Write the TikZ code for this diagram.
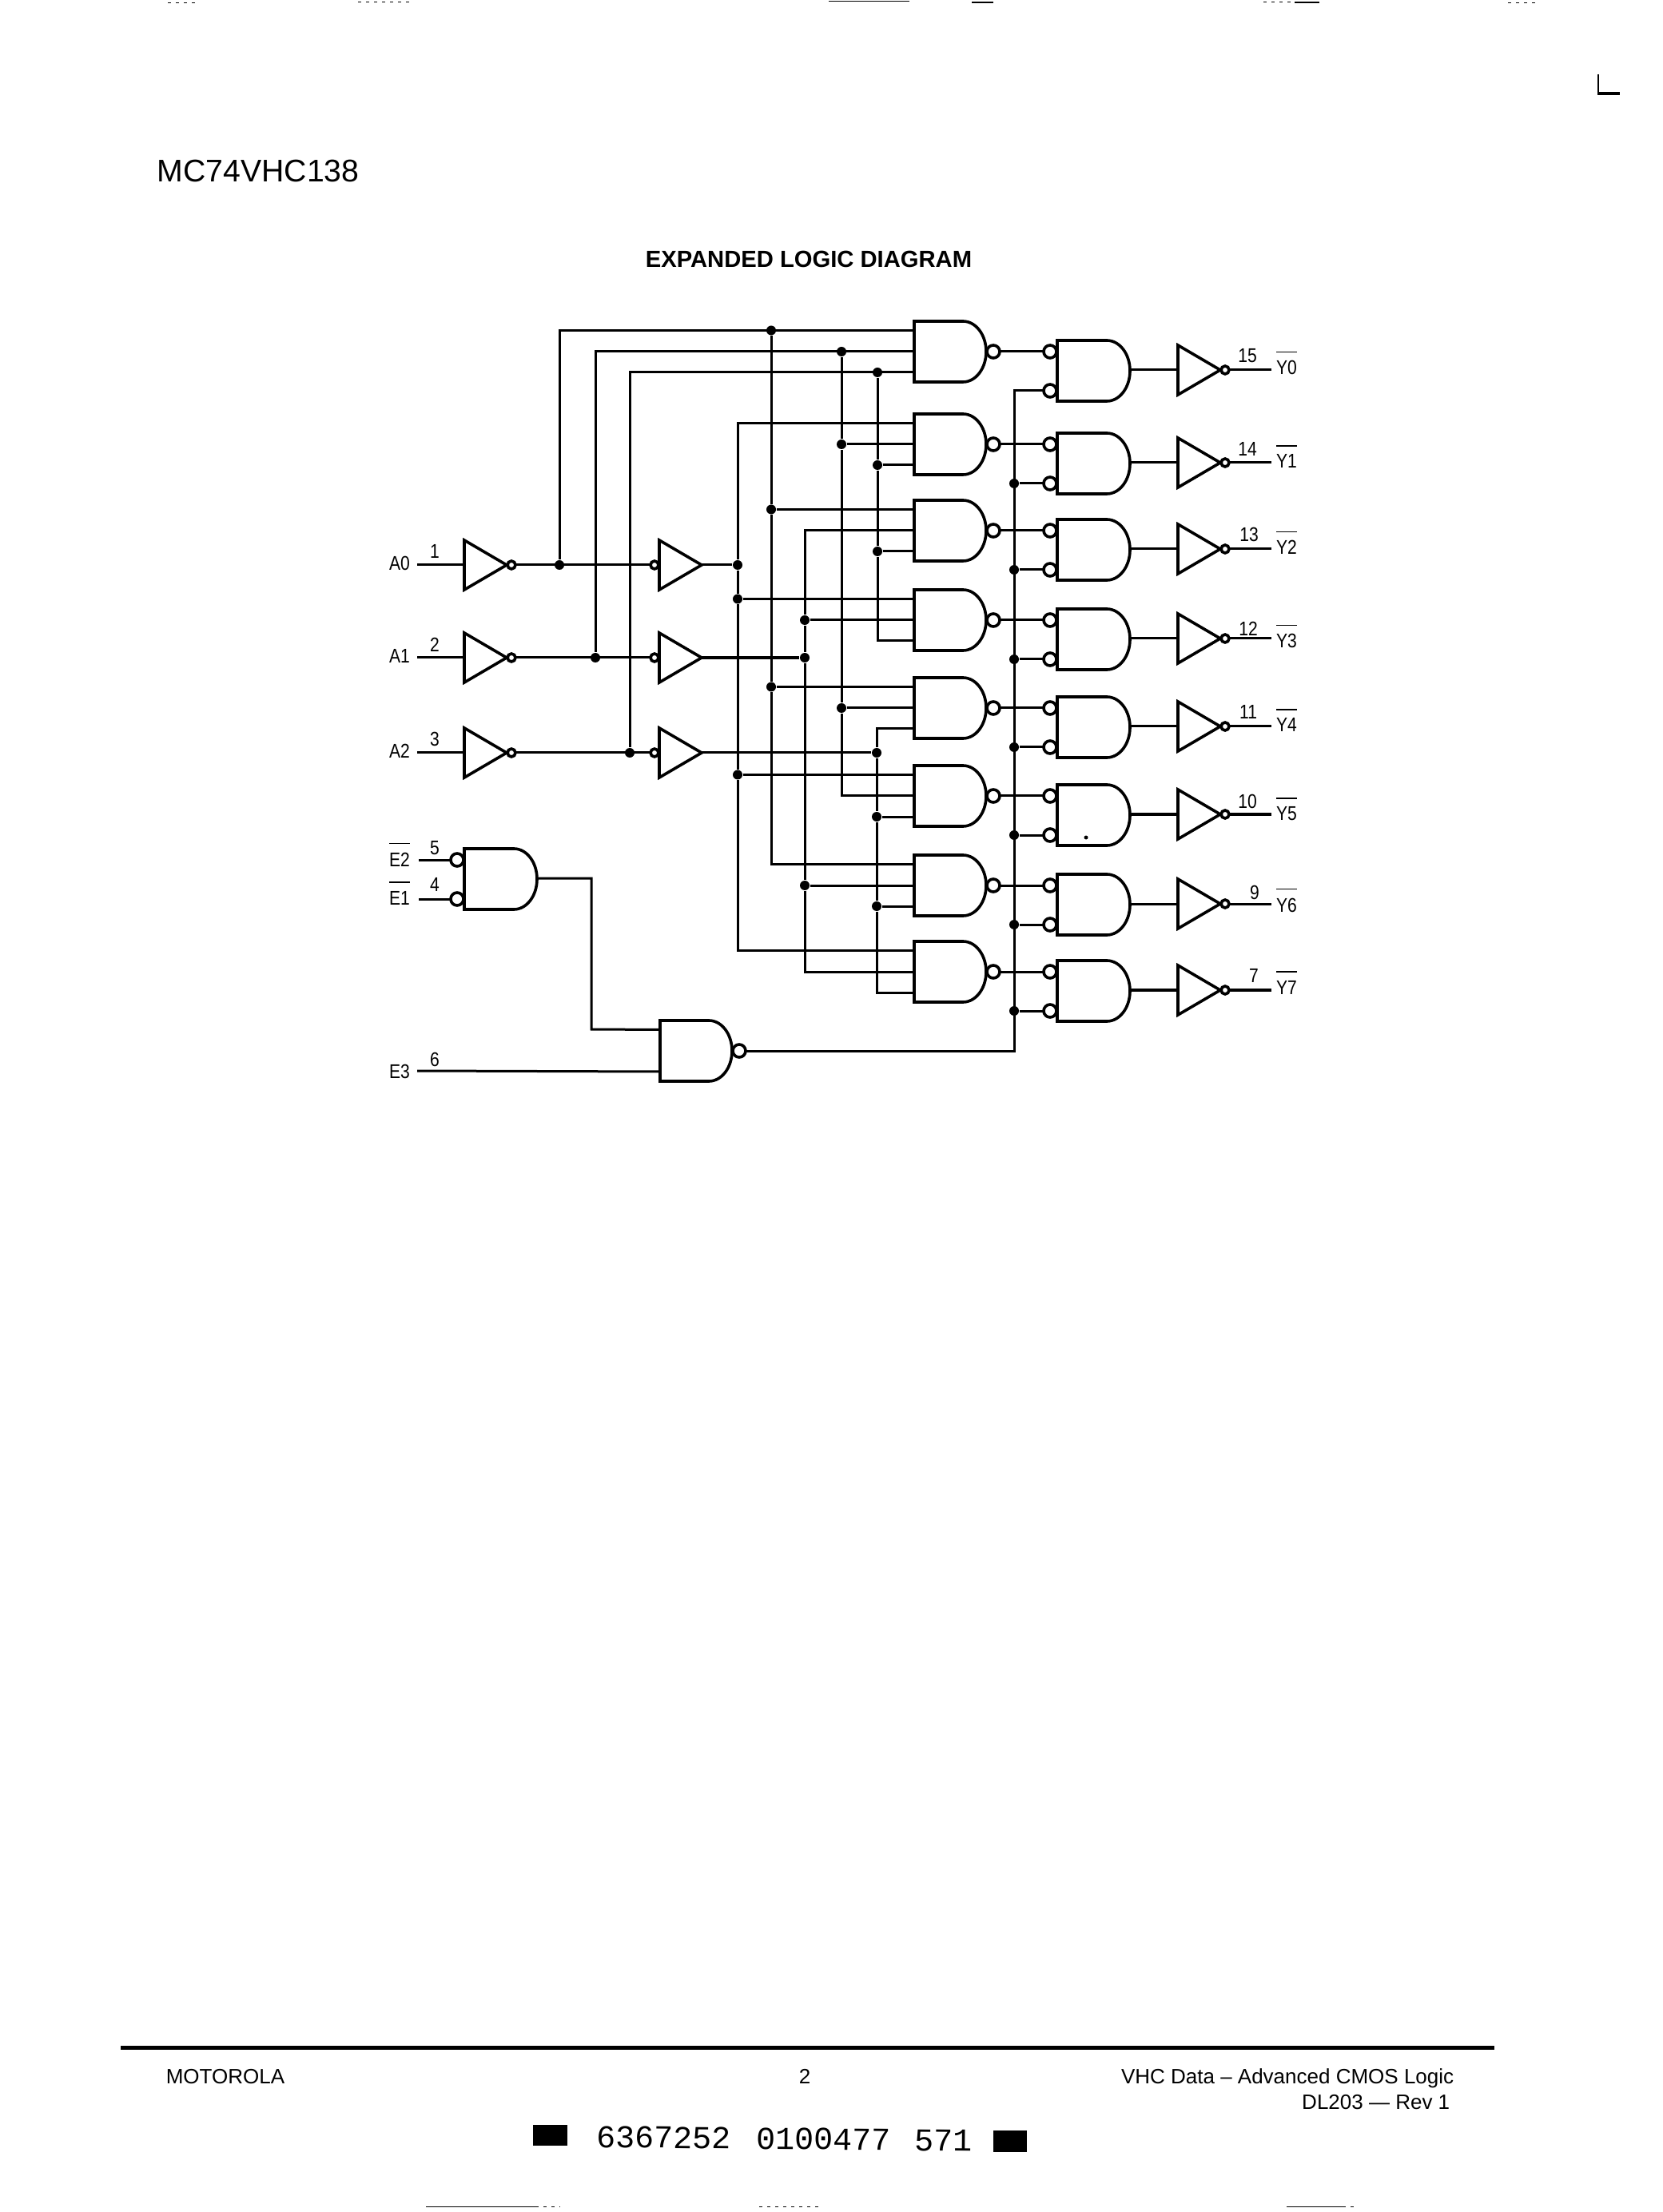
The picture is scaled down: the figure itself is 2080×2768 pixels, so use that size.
\documentclass[tikz,border=0pt]{standalone}
\usepackage{fontspec}
\setmainfont{Liberation Sans}
\newfontfamily\pinfont[FakeStretch=0.85]{Liberation Sans}
\newfontfamily\codefont{Liberation Mono}
\newcommand{\barred}[1]{\vbox{\hrule height .3pt \kern 2.6pt \hbox{#1}}}

\tikzset{
	wire/.style = {line width = .75pt},
	heavywire/.style = {line width = 1.1pt},
	gateline/.style = {line width = .9pt},
	dot/.style = {circle, fill, inner sep = 0pt, minimum size = 3pt},
	pinlabel/.style = {font = \pinfont\fontsize{6.2}{7}\selectfont, inner sep = 0pt, anchor = base},
	pagetext/.style = {font = \fontsize{6.5}{8}\selectfont, inner sep = 0pt},
	speck/.style = {line width = .25pt},
	dottedspeck/.style = {line width = .25pt, dash pattern = on 1pt off 1.5pt},
	pics/nandgate/.style = {code = {
		\draw[gateline] (0,0) -- (61,0) .. controls (77,0) and (90,17) .. (90,38) .. controls (90,59) and (77,76) .. (61,76) -- (0,76) -- cycle;
		\draw[gateline] (99,38) circle (8);
		\coordinate (-a) at (0,11.5);
		\coordinate (-b) at (0,38);
		\coordinate (-c) at (0,64);
		\coordinate (-o) at (107,38);
	}},
	pics/andgate/.style = {code = {
		\draw[gateline] (0,0) -- (62,0) .. controls (78,0) and (91,17) .. (91,38) .. controls (91,59) and (78,76) .. (62,76) -- (0,76) -- cycle;
		\draw[gateline] (-9,14) circle (8);
		\draw[gateline] (-9,63) circle (8);
		\coordinate (-a) at (-17,14);
		\coordinate (-b) at (-17,63);
		\coordinate (-o) at (91,37);
	}},
	pics/inverter/.style = {code = {
		\draw[gateline] (0,-31) -- (53,0) -- (0,31) -- cycle;
		\draw[gateline] (59,0) circle (5);
		\coordinate (-i) at (0,0);
		\coordinate (-o) at (64,0);
	}},
	pics/buffer/.style = {code = {
		\draw[gateline] (0,-31) -- (53,0) -- (0,31) -- cycle;
		\draw[gateline] (-6,0) circle (5);
		\coordinate (-i) at (-11,0);
		\coordinate (-o) at (53,0);
	}}
}

\begin{document}
\begin{tikzpicture}[x = .25pt, y = -.25pt]
	\useasboundingbox (0,0) rectangle (2080,2768);

	\begin{scope}
		\node[pagetext, anchor = base west, font = \fontsize{9.8}{11}\selectfont] (title) at (196,228) {MC74VHC138};
		\node[pagetext, anchor = base, font = \bfseries\fontsize{7.3}{9}\selectfont] (heading) at (1012,335) {EXPANDED LOGIC DIAGRAM};
	\end{scope}

	\pic (ia) at (581,707) {inverter};
	\pic (ib) at (581,823) {inverter};
	\pic (ic) at (581,942) {inverter};
	\pic (ja) at (825,707) {buffer};
	\pic (jb) at (825,823) {buffer};
	\pic (jc) at (825,942) {buffer};

	\pic (g0) at (1144,402) {nandgate};
	\pic (g1) at (1144,518) {nandgate};
	\pic (g2) at (1144,626) {nandgate};
	\pic (g3) at (1144,738) {nandgate};
	\pic (g4) at (1144,848) {nandgate};
	\pic (g5) at (1144,958) {nandgate};
	\pic (g6) at (1144,1070) {nandgate};
	\pic (g7) at (1144,1178) {nandgate};
	\pic (g8) at (826,1277) {nandgate};

	\pic (h0) at (1323,426) {andgate};
	\pic (h1) at (1323,542) {andgate};
	\pic (h2) at (1323,650) {andgate};
	\pic (h3) at (1323,762) {andgate};
	\pic (h4) at (1323,872) {andgate};
	\pic (h5) at (1323,982) {andgate};
	\pic (h6) at (1323,1094) {andgate};
	\pic (h7) at (1323,1202) {andgate};
	\pic (en) at (581,1062) {andgate};

	\pic (k0) at (1474,463) {inverter};
	\pic (k1) at (1474,579) {inverter};
	\pic (k2) at (1474,687) {inverter};
	\pic (k3) at (1474,799) {inverter};
	\pic (k4) at (1474,909) {inverter};
	\pic (k5) at (1474,1019) {inverter};
	\pic (k6) at (1474,1131) {inverter};
	\pic (k7) at (1474,1239) {inverter};

	\coordinate (busa) at (923,0);
	\coordinate (busb) at (965,0);
	\coordinate (busc) at (1007,0);
	\coordinate (busd) at (1053,0);
	\coordinate (buse) at (1098,0);
	\coordinate (busf) at (1097,0);
	\coordinate (busg) at (1269,0);

	\begin{scope}
		\coordinate (a0in) at (522,707);
		\coordinate (a1in) at (522,823);
		\coordinate (a2in) at (522,942);
		\coordinate (e2in) at (524,1076);
		\coordinate (e1in) at (524,1125);
		\coordinate (e3in) at (522,1340);
		\node[dot] (p0) at (700,707) {};
		\node[dot] (p1) at (745,823) {};
		\node[dot] (p2) at (788,942) {};
		\draw[wire] (a0in) -- (ia-i);
		\draw[wire] (a1in) -- (ib-i);
		\draw[wire] (a2in) -- (ic-i);
		\draw[wire] (ia-o) -- (ja-i);
		\draw[wire] (ib-o) -- (jb-i);
		\draw[wire] (ic-o) -- (jc-i);
		\draw[wire] (p0) |- (g0-a);
		\draw[wire] (p1) |- (g0-b);
		\draw[wire] (p2) |- (g0-c);
	\end{scope}

	\begin{scope}
		\node[dot] (q0) at (busa |- ja-o) {};
		\node[dot] (q1) at (busa |- g3-a) {};
		\node[dot] (q2) at (busa |- g5-a) {};
		\draw[wire] (ja-o) -- (q0);
		\draw[wire] (q0) |- (g1-a);
		\draw[wire] (q0) -- (q1) -- (q2) |- (g7-a);
		\draw[wire] (q1) -- (g3-a);
		\draw[wire] (q2) -- (g5-a);
	\end{scope}

	\begin{scope}
		\node[dot] (r0) at (busb |- g0-a) {};
		\node[dot] (r1) at (busb |- g2-a) {};
		\node[dot] (r2) at (busb |- g4-a) {};
		\draw[wire] (r0) -- (r1) -- (r2) |- (g6-a);
		\draw[wire] (r1) -- (g2-a);
		\draw[wire] (r2) -- (g4-a);
	\end{scope}

	\begin{scope}
		\node[dot] (s0) at (busc |- g3-b) {};
		\node[dot] (s1) at (busc |- jb-o) {};
		\node[dot] (s2) at (busc |- g6-b) {};
		\draw[heavywire] (jb-o) -- (s1);
		\draw[wire] (s0) |- (g2-b);
		\draw[wire] (s0) -- (s1) -- (s2) |- (g7-b);
		\draw[wire] (s0) -- (g3-b);
		\draw[wire] (s2) -- (g6-b);
	\end{scope}

	\begin{scope}
		\node[dot] (t0) at (busd |- g0-b) {};
		\node[dot] (t1) at (busd |- g1-b) {};
		\node[dot] (t2) at (busd |- g4-b) {};
		\draw[wire] (t0) -- (t1) -- (t2) |- (g5-b);
		\draw[wire] (t1) -- (g1-b);
		\draw[wire] (t2) -- (g4-b);
	\end{scope}

	\begin{scope}
		\node[dot] (u0) at (buse |- g0-c) {};
		\node[dot] (u1) at (buse |- g1-c) {};
		\node[dot] (u2) at (buse |- g2-c) {};
		\draw[wire] (u0) -- (u1) -- (u2) |- (g3-c);
		\draw[wire] (u1) -- (g1-c);
		\draw[wire] (u2) -- (g2-c);
	\end{scope}

	\begin{scope}
		\node[dot] (v0) at (busf |- jc-o) {};
		\node[dot] (v1) at (busf |- g5-c) {};
		\node[dot] (v2) at (busf |- g6-c) {};
		\draw[wire] (jc-o) -- (v0);
		\draw[wire] (v0) |- (g4-c);
		\draw[wire] (v0) -- (v1) -- (v2) |- (g7-c);
		\draw[wire] (v1) -- (g5-c);
		\draw[wire] (v2) -- (g6-c);
	\end{scope}

	\begin{scope}
		\draw[wire] (g0-o) -- (h0-a);
		\draw[wire] (g1-o) -- (h1-a);
		\draw[wire] (g2-o) -- (h2-a);
		\draw[wire] (g3-o) -- (h3-a);
		\draw[wire] (g4-o) -- (h4-a);
		\draw[wire] (g5-o) -- (h5-a);
		\draw[wire] (g6-o) -- (h6-a);
		\draw[wire] (g7-o) -- (h7-a);
		\draw[wire] (h0-o) -- (k0-i);
		\draw[wire] (h1-o) -- (k1-i);
		\draw[wire] (h2-o) -- (k2-i);
		\draw[wire] (h3-o) -- (k3-i);
		\draw[wire] (h4-o) -- (k4-i);
		\draw[wire] (h5-o) -- (k5-i);
		\draw[wire] (h6-o) -- (k6-i);
		\draw[heavywire] (h7-o) -- (k7-i);
	\end{scope}

	\begin{scope}
		\node[dot] (w1) at (busg |- h1-b) {};
		\node[dot] (w2) at (busg |- h2-b) {};
		\node[dot] (w3) at (busg |- h3-b) {};
		\node[dot] (w4) at (busg |- h4-b) {};
		\node[dot] (w5) at (busg |- h5-b) {};
		\node[dot] (w6) at (busg |- h6-b) {};
		\node[dot] (w7) at (busg |- h7-b) {};
		\draw[wire] (g8-o) -| (busg |- h0-b) -- (h0-b);
		\draw[wire] (w1) -- (h1-b);
		\draw[wire] (w2) -- (h2-b);
		\draw[wire] (w3) -- (h3-b);
		\draw[wire] (w4) -- (h4-b);
		\draw[wire] (w5) -- (h5-b);
		\draw[wire] (w6) -- (h6-b);
		\draw[wire] (w7) -- (h7-b);
	\end{scope}

	\begin{scope}
		\draw[wire] (e2in) -- (en-a);
		\draw[wire] (e1in) -- (en-b);
		\draw[wire] (e3in) -- (g8-c);
		\draw[wire] (en-o) -| (740,1288) -- (g8-a);
	\end{scope}

	\begin{scope}
		\coordinate (y0out) at (1591,463);
		\coordinate (y1out) at (1591,579);
		\coordinate (y2out) at (1591,687);
		\coordinate (y3out) at (1591,799);
		\coordinate (y4out) at (1591,909);
		\coordinate (y5out) at (1591,1019);
		\coordinate (y6out) at (1591,1131);
		\coordinate (y7out) at (1591,1239);
		\draw[wire] (k0-o) -- (y0out);
		\draw[wire] (k1-o) -- (y1out);
		\draw[wire] (k2-o) -- (y2out);
		\draw[wire] (k3-o) -- (y3out);
		\draw[wire] (k4-o) -- (y4out);
		\draw[wire] (k5-o) -- (y5out);
		\draw[wire] (k6-o) -- (y6out);
		\draw[heavywire] (k7-o) -- (y7out);
	\end{scope}

	\begin{scope}
		\node[pinlabel] (A0) at (500,714) {A0};
		\node[pinlabel] (A1) at (500,830) {A1};
		\node[pinlabel] (A2) at (500,949) {A2};
		\node[pinlabel] (E2) at (500,1084) {\barred{E2}};
		\node[pinlabel] (E1) at (500,1132) {\barred{E1}};
		\node[pinlabel] (E3) at (500,1349) {E3};
		\node[pinlabel] (pin1) at (544,699) {1};
		\node[pinlabel] (pin2) at (544,816) {2};
		\node[pinlabel] (pin3) at (544,934) {3};
		\node[pinlabel] (pin5) at (544,1069) {5};
		\node[pinlabel] (pin4) at (544,1115) {4};
		\node[pinlabel] (pin6) at (544,1334) {6};
		\node[pinlabel] (pin15) at (1561,454) {15};
		\node[pinlabel] (pin14) at (1561,571) {14};
		\node[pinlabel] (pin13) at (1563,678) {13};
		\node[pinlabel] (pin12) at (1562,796) {12};
		\node[pinlabel] (pin11) at (1562,900) {11};
		\node[pinlabel] (pin10) at (1561,1012) {10};
		\node[pinlabel] (pin9) at (1570,1125) {9};
		\node[pinlabel] (pin7) at (1569,1229) {7};
		\node[pinlabel] (Y0) at (1610,469) {\barred{Y0}};
		\node[pinlabel] (Y1) at (1610,586) {\barred{Y1}};
		\node[pinlabel] (Y2) at (1610,694) {\barred{Y2}};
		\node[pinlabel] (Y3) at (1610,811) {\barred{Y3}};
		\node[pinlabel] (Y4) at (1610,916) {\barred{Y4}};
		\node[pinlabel] (Y5) at (1610,1027) {\barred{Y5}};
		\node[pinlabel] (Y6) at (1610,1141) {\barred{Y6}};
		\node[pinlabel] (Y7) at (1610,1244) {\barred{Y7}};
	\end{scope}

	\begin{scope}
		\fill (1359,1048) circle (2.5);
		\draw[line width = .4pt] (2000,93) -- (2000,118);
		\draw[line width = 1pt] (1999,117.5) -- (2027,117.5);
		\draw[dottedspeck] (210,4) -- (244,4);
		\draw[dottedspeck] (448,3) -- (513,3);
		\draw[speck] (1037,2) -- (1138,2);
		\draw[line width = .5pt] (1216,3) -- (1243,3);
		\draw[dottedspeck] (1581,3) -- (1620,3);
		\draw[line width = .4pt] (1620,3) -- (1651,3);
		\draw[dottedspeck] (1887,4) -- (1923,4);
		\draw[speck] (533,2761) -- (670,2761);
		\draw[dottedspeck] (670,2761) -- (701,2761);
		\draw[dottedspeck] (950,2761) -- (1027,2761);
		\draw[speck] (1610,2761) -- (1680,2761);
		\draw[dottedspeck] (1680,2761) -- (1694,2761);
	\end{scope}

	\begin{scope}
		\fill (151,2560) rectangle (1870,2565);
		\node[pagetext, anchor = base west] (maker) at (207,2607) {MOTOROLA};
		\node[pagetext, anchor = base] (pageno) at (1007,2607) {2};
		\node[pagetext, anchor = base east] (series) at (1820,2607) {VHC Data -- Advanced CMOS Logic};
		\node[pagetext, anchor = base east] (issue) at (1815,2639) {DL203 --- Rev 1};
		\fill (667,2659) rectangle (710,2685);
		\fill (1243,2666) rectangle (1285,2693);
		\node[pagetext, anchor = base west, rotate = -.6, font = \codefont\fontsize{10}{12}\selectfont] (lotcode) at (746,2687) {6367252\kern 2pt\ 0100477\kern 1.5pt\ 571};
	\end{scope}
\end{tikzpicture}
\end{document}
